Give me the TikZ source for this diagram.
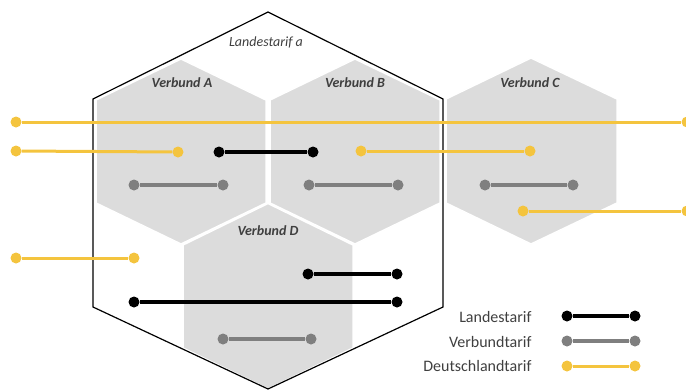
\documentclass[tikz,border=0pt]{standalone}
\usepackage{fontspec}
\setmainfont{Carlito}
\definecolor{hexgrey}{HTML}{DCDCDC}
\definecolor{deutschgelb}{HTML}{F4C43E}
\definecolor{verbundgrau}{HTML}{7F7F7F}
\definecolor{labelgrau}{HTML}{3F3F3F}
\tikzset{
    verbundhex/.style = {fill=hexgrey, draw=white, line width=1.5pt},
    hexlabel/.style = {font=\fontsize{14}{16}\selectfont\bfseries\itshape, text=labelgrau},
    landes/.style = {line width=3.5pt, color=black},
    verbund/.style = {line width=3.5pt, color=verbundgrau},
    deutsch/.style = {line width=3pt, color=deutschgelb},
    bdot/.style = {circle, fill=black, inner sep=0pt, minimum size=11pt},
    gdot/.style = {circle, fill=verbundgrau, inner sep=0pt, minimum size=11pt},
    ydot/.style = {circle, fill=deutschgelb, inner sep=0pt, minimum size=11pt},
    legendtext/.style = {anchor=east, font=\fontsize{16}{18}\selectfont, text=labelgrau}
}
\begin{document}
\begin{tikzpicture}[x=1pt, y=-1pt]
    \useasboundingbox (0,0) rectangle (686,389);

        % Verbund hexagons:
        \fill[verbundhex] (181,59) -- (266,100) -- (266,203) -- (181,244) -- (96,203) -- (96,100) -- cycle;
        \fill[verbundhex] (355,59) -- (440,100) -- (440,203) -- (355,244) -- (270,203) -- (270,100) -- cycle;
        \fill[verbundhex] (531,58) -- (617,99) -- (617,203) -- (531,244) -- (446,203) -- (446,99) -- cycle;
        \fill[verbundhex] (268,203.5) -- (353,245) -- (353,348) -- (268,389) -- (183,348) -- (183,245) -- cycle;
        \draw[verbundhex] (181,59) -- (266,100) -- (266,203) -- (181,244) -- (96,203) -- (96,100) -- cycle;
        \draw[verbundhex] (355,59) -- (440,100) -- (440,203) -- (355,244) -- (270,203) -- (270,100) -- cycle;
        \draw[verbundhex] (268,203.5) -- (353,245) -- (353,348) -- (268,389) -- (183,348) -- (183,245) -- cycle;

        % Landestarif a:
        \draw[line width=1.2pt] (268,12) -- (443,99) -- (443,307) -- (268,389) -- (93,307) -- (93,99) -- cycle;
        \node[font=\fontsize{14}{16}\selectfont\itshape, text=labelgrau] (land) at (266,42) {Landestarif a};

        \node[hexlabel] (vA) at (182,83) {Verbund A};
        \node[hexlabel] (vB) at (355,83) {Verbund B};
        \node[hexlabel] (vC) at (530,83) {Verbund C};
        \node[hexlabel] (vD) at (268,231) {Verbund D};

        % Deutschlandtarif:
        \node[ydot] (y1a) at (16,122) {};
        \node[ydot] (y1b) at (687,122) {};
        \node[ydot] (y2a) at (16,151) {};
        \node[ydot] (y2b) at (178,152) {};
        \node[ydot] (y3a) at (361,151) {};
        \node[ydot] (y3b) at (530,151) {};
        \node[ydot] (y4a) at (523,211) {};
        \node[ydot] (y4b) at (687,211) {};
        \node[ydot] (y5a) at (16,258) {};
        \node[ydot] (y5b) at (134,258) {};
        \draw[deutsch] (y1a) -- (y1b);
        \draw[deutsch] (y2a) -- (y2b);
        \draw[deutsch] (y3a) -- (y3b);
        \draw[deutsch] (y4a) -- (y4b);
        \draw[deutsch] (y5a) -- (y5b);

        % Landestarif:
        \node[bdot] (b1a) at (219,152) {};
        \node[bdot] (b1b) at (313,152) {};
        \node[bdot] (b2a) at (308,274) {};
        \node[bdot] (b2b) at (397,274) {};
        \node[bdot] (b3a) at (134,302) {};
        \node[bdot] (b3b) at (397,302) {};
        \draw[landes] (b1a) -- (b1b);
        \draw[landes] (b2a) -- (b2b);
        \draw[landes] (b3a) -- (b3b);

        % Verbundtarif:
        \node[gdot] (g1a) at (134,185) {};
        \node[gdot] (g1b) at (223,185) {};
        \node[gdot] (g2a) at (309,185) {};
        \node[gdot] (g2b) at (398,185) {};
        \node[gdot] (g3a) at (485,185) {};
        \node[gdot] (g3b) at (573,185) {};
        \node[gdot] (g4a) at (223,339) {};
        \node[gdot] (g4b) at (311,339) {};
        \draw[verbund] (g1a) -- (g1b);
        \draw[verbund] (g2a) -- (g2b);
        \draw[verbund] (g3a) -- (g3b);
        \draw[verbund] (g4a) -- (g4b);

        % Legend:
        \node[legendtext] (legL) at (535,317) {Landestarif};
        \node[legendtext] (legV) at (535,342) {Verbundtarif};
        \node[legendtext] (legD) at (535,366) {Deutschlandtarif};
        \node[bdot] (lb1) at (567,316) {};
        \node[bdot] (lb2) at (635,316) {};
        \node[gdot] (lg1) at (567,341) {};
        \node[gdot] (lg2) at (635,341) {};
        \node[ydot] (ly1) at (567,366) {};
        \node[ydot] (ly2) at (635,366) {};
        \draw[landes] (lb1) -- (lb2);
        \draw[verbund] (lg1) -- (lg2);
        \draw[deutsch] (ly1) -- (ly2);
\end{tikzpicture}
\end{document}
